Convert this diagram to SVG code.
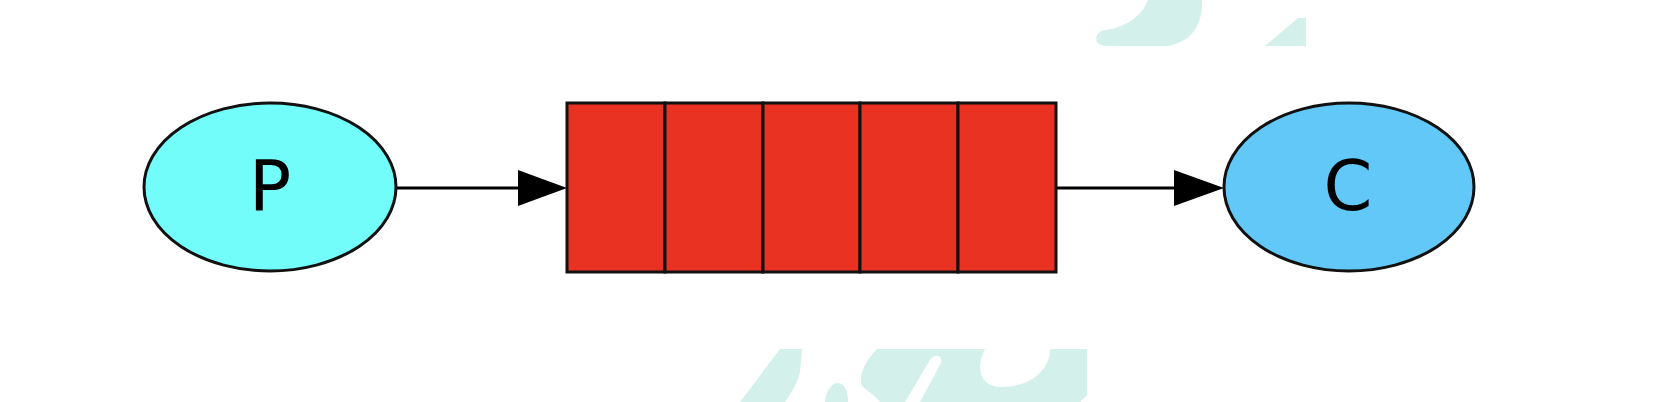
<svg xmlns="http://www.w3.org/2000/svg" width="1654" height="402" viewBox="0 0 1654 402">
<style>
.node{stroke:#111;stroke-width:3}
.lbl{font-family:"DejaVu Sans",sans-serif;font-size:70px;fill:#000;text-anchor:middle}
.cell{fill:#e93222;stroke:#111;stroke-width:3}
.edge{stroke:#000;stroke-width:3;fill:none}
.head{fill:#000}
.wm{fill:#d4f0ea}
</style>
<rect width="1654" height="402" fill="#fff"/>
<g id="watermark">
<path class="wm" d="M1148,0 L1202,0 C1203,24 1192,42 1168,46 L1106,46 C1093,46 1093,31 1106,30 C1128,27 1143,14 1148,0 Z"/>
<path class="wm" d="M1265,46 L1298,18 L1306,18 L1306,46 Z"/>
<path class="wm" d="M740,402 L780,349 L802,349 L800,372 C797,385 790,395 785,402 Z"/>
<path class="wm" d="M825,402 C826,390 832,383 838,383 C845,383 848,392 848,402 Z"/>
<path class="wm" d="M862,386 C858,375 866,360 877,349 L1087,349 L1087,395 L1080,402 L880,402 C875,395 868,392 862,386 Z"/>
<path fill="#fff" d="M905,402 L930,360 C935,352 945,356 940,365 L920,402 Z"/>
<path fill="#fff" d="M985,349 L1050,349 C1050,370 1030,387 1002,387 C980,387 975,368 985,349 Z"/>
</g>
<g id="connectors">
<line class="edge" x1="397" y1="188" x2="520" y2="188"/>
<polygon class="head" points="518,170 567,188 518,206"/>
<line class="edge" x1="1056" y1="188" x2="1176" y2="188"/>
<polygon class="head" points="1174,170 1224,188 1174,206"/>
</g>
<g id="P">
<ellipse class="node" cx="270" cy="187" rx="126" ry="84" fill="#72fcfa"/>
<text class="lbl" x="270" y="210">P</text>
</g>
<g id="queue">
<rect class="cell" x="567" y="103" width="98" height="169"/>
<rect class="cell" x="665" y="103" width="98" height="169"/>
<rect class="cell" x="763" y="103" width="97" height="169"/>
<rect class="cell" x="860" y="103" width="98" height="169"/>
<rect class="cell" x="958" y="103" width="98" height="169"/>
</g>
<g id="C">
<ellipse class="node" cx="1349" cy="187" rx="125" ry="84" fill="#62c8f7"/>
<text class="lbl" x="1348" y="210">C</text>
</g>
</svg>
